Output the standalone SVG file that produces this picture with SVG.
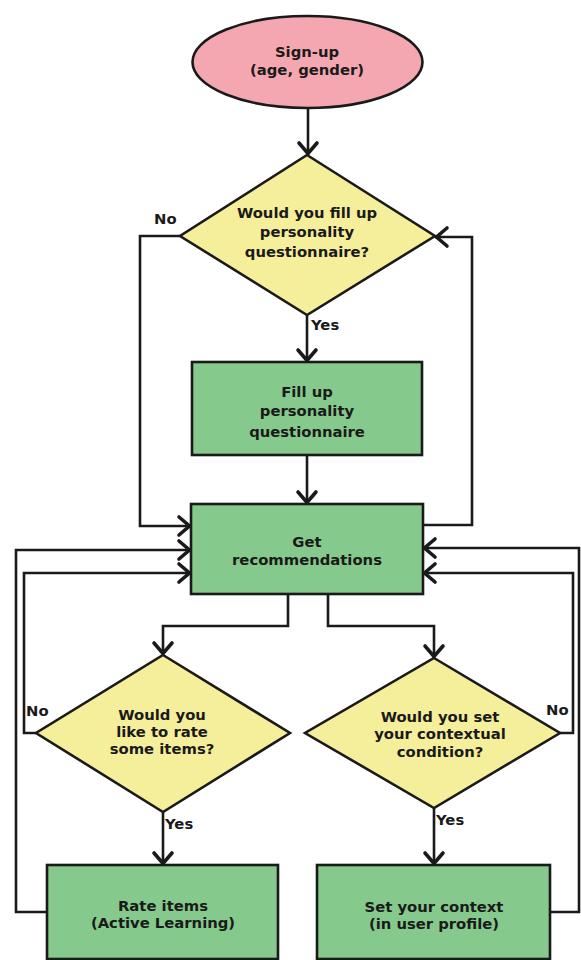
<svg xmlns="http://www.w3.org/2000/svg" width="581" height="960" viewBox="0 0 581 960">
<style>
.n{stroke:#1a1a1a;stroke-width:2.6}
.start{fill:#f4a7b1}
.dec{fill:#f5ef9b}
.proc{fill:#86c98c}
text{font-family:"DejaVu Sans",Verdana,sans-serif;font-weight:bold;font-size:14.8px;fill:#1a1a1a;text-anchor:middle}
.lbl{text-anchor:start}
.c{fill:none;stroke:#1a1a1a;stroke-width:2.6}
</style>
<defs>
<marker id="arr" markerUnits="userSpaceOnUse" markerWidth="20" markerHeight="22" viewBox="-16 -11 20 22" refX="0" refY="0" orient="auto" overflow="visible">
<path d="M-12,-9 L-1.5,0 L-12,9" fill="none" stroke="#1a1a1a" stroke-width="3.6" stroke-linecap="round"/>
</marker>
</defs>
<rect width="581" height="960" fill="#ffffff"/>
<g id="connectors">
<path class="c" d="M308,108 V155" marker-end="url(#arr)"/>
<path class="c" d="M180,236 H140 V526 H191" marker-end="url(#arr)"/>
<path class="c" d="M307,315 V362" marker-end="url(#arr)"/>
<path class="c" d="M307,455 V504" marker-end="url(#arr)"/>
<path class="c" d="M423,525 H472 V237 H435" marker-end="url(#arr)"/>
<path class="c" d="M288,594 V626 H163 V655" marker-end="url(#arr)"/>
<path class="c" d="M328,594 V626 H434 V658" marker-end="url(#arr)"/>
<path class="c" d="M163,812 V865" marker-end="url(#arr)"/>
<path class="c" d="M434,808 V865" marker-end="url(#arr)"/>
<path class="c" d="M47,912 H16 V550 H191" marker-end="url(#arr)"/>
<path class="c" d="M36,733 H24 V573 H191" marker-end="url(#arr)"/>
<path class="c" d="M550,912 H579 V548 H423" marker-end="url(#arr)"/>
<path class="c" d="M560,733 H573 V573 H423" marker-end="url(#arr)"/>
<text class="lbl" x="154" y="224">No</text>
<text class="lbl" x="311" y="330">Yes</text>
<text class="lbl" x="26" y="716">No</text>
<text class="lbl" x="165" y="829">Yes</text>
<text class="lbl" x="546" y="715">No</text>
<text class="lbl" x="436" y="825">Yes</text>
</g>
<g id="signup">
<ellipse class="n start" cx="307.5" cy="62" rx="115" ry="46"/>
<text x="307" y="57">Sign-up</text>
<text x="307" y="75">(age, gender)</text>
</g>
<g id="q-personality">
<polygon class="n dec" points="307,155 435,236 307,315 180,236"/>
<text x="307" y="218">Would you fill up</text>
<text x="307" y="237">personality</text>
<text x="307" y="257">questionnaire?</text>
</g>
<g id="fill-personality">
<rect class="n proc" x="192" y="362" width="230" height="93"/>
<text x="307" y="397">Fill up</text>
<text x="307" y="416">personality</text>
<text x="307" y="437">questionnaire</text>
</g>
<g id="get-recommendations">
<rect class="n proc" x="191" y="504" width="232" height="90"/>
<text x="307" y="547">Get</text>
<text x="307" y="565">recommendations</text>
</g>
<g id="q-rate">
<polygon class="n dec" points="163,655 290,733 163,812 36,733"/>
<text x="162" y="720">Would you</text>
<text x="162" y="737">like to rate</text>
<text x="162" y="754">some items?</text>
</g>
<g id="q-context">
<polygon class="n dec" points="434,658 560,733 434,808 305,733"/>
<text x="440" y="722">Would you set</text>
<text x="440" y="739">your contextual</text>
<text x="440" y="757">condition?</text>
</g>
<g id="rate-items">
<rect class="n proc" x="47" y="865" width="231" height="94"/>
<text x="163" y="911">Rate items</text>
<text x="163" y="928">(Active Learning)</text>
</g>
<g id="set-context">
<rect class="n proc" x="317" y="865" width="233" height="94"/>
<text x="434" y="912">Set your context</text>
<text x="434" y="929">(in user profile)</text>
</g>
</svg>
